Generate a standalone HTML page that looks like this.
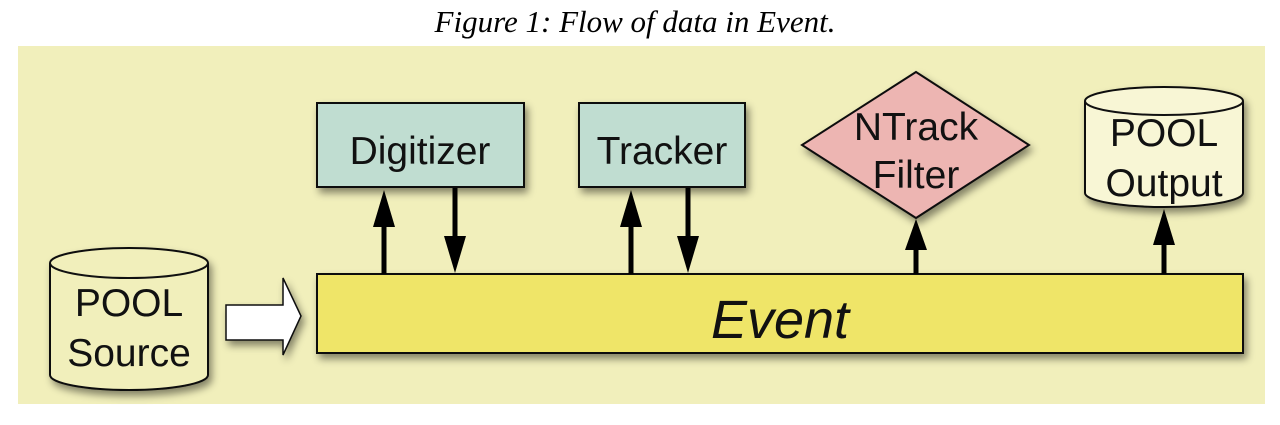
<!DOCTYPE html>
<html><head><style>
body{margin:0;width:1280px;height:420px;background:#fff;overflow:hidden}
</style></head><body>
<svg width="1280" height="420" xmlns="http://www.w3.org/2000/svg">
<defs>
<filter id="sh" x="-20%" y="-20%" width="150%" height="160%"><feDropShadow dx="3" dy="5" stdDeviation="4" flood-color="#000" flood-opacity="0.45"/></filter>
</defs>
<text x="635" y="32" text-anchor="middle" font-family="Liberation Serif" font-style="italic" font-size="31">Figure 1: Flow of data in Event.</text>
<rect x="18" y="46" width="1247" height="358" fill="#f1efbb"/>
<g font-family="Liberation Sans" font-size="39" fill="#111">
<rect x="317" y="274" width="926" height="79" fill="#efe567" stroke="#111" stroke-width="2" filter="url(#sh)"/>
<text x="780" y="338" text-anchor="middle" font-style="italic" font-size="54">Event</text>
<rect x="317" y="103" width="207" height="84" fill="#c0ddd1" stroke="#111" stroke-width="2" filter="url(#sh)"/>
<text x="420" y="164" text-anchor="middle">Digitizer</text>
<rect x="579" y="103" width="166" height="84" fill="#c0ddd1" stroke="#111" stroke-width="2" filter="url(#sh)"/>
<text x="662" y="164" text-anchor="middle">Tracker</text>
<polygon points="916,72 1029,145 916,218 802,145" fill="#edb5b2" stroke="#111" stroke-width="2" filter="url(#sh)"/>
<text x="916" y="140" text-anchor="middle">NTrack</text>
<text x="916" y="188" text-anchor="middle">Filter</text>
<path d="M1085,101 A79,14 0 0 1 1243,101 L1243,193 A79,14 0 0 1 1085,193 Z" fill="#f8f6d5" stroke="#111" stroke-width="2" filter="url(#sh)"/>
<path d="M1085,101 A79,14 0 0 0 1243,101" fill="none" stroke="#111" stroke-width="2"/>
<text x="1164" y="146" text-anchor="middle">POOL</text>
<text x="1164" y="196" text-anchor="middle">Output</text>
<path d="M50,263 A79,15 0 0 1 208,263 L208,375 A79,15 0 0 1 50,375 Z" fill="#f1efbb" stroke="#111" stroke-width="2" filter="url(#sh)"/>
<path d="M50,263 A79,15 0 0 0 208,263" fill="none" stroke="#111" stroke-width="2"/>
<text x="129" y="316" text-anchor="middle">POOL</text>
<text x="129" y="366" text-anchor="middle">Source</text>
<polygon points="226,305 283,305 283,278 301,316 283,355 283,340 226,340" fill="#fff" stroke="#111" stroke-width="1.5" filter="url(#sh)"/>
</g>
<g stroke="#000" stroke-width="5" fill="#000">
<line x1="384" y1="274" x2="384" y2="220"/><polygon points="373,227 395,227 384,190" stroke="none"/>
<line x1="455" y1="188" x2="455" y2="240"/><polygon points="444,236 466,236 455,273" stroke="none"/>
<line x1="631" y1="274" x2="631" y2="220"/><polygon points="620,227 642,227 631,190" stroke="none"/>
<line x1="688" y1="188" x2="688" y2="240"/><polygon points="677,236 699,236 688,273" stroke="none"/>
<line x1="916" y1="274" x2="916" y2="245"/><polygon points="905,250 927,250 916,219" stroke="none"/>
<line x1="1164" y1="274" x2="1164" y2="240"/><polygon points="1153,245 1175,245 1164,209" stroke="none"/>
</g>
</svg>
</body></html>
